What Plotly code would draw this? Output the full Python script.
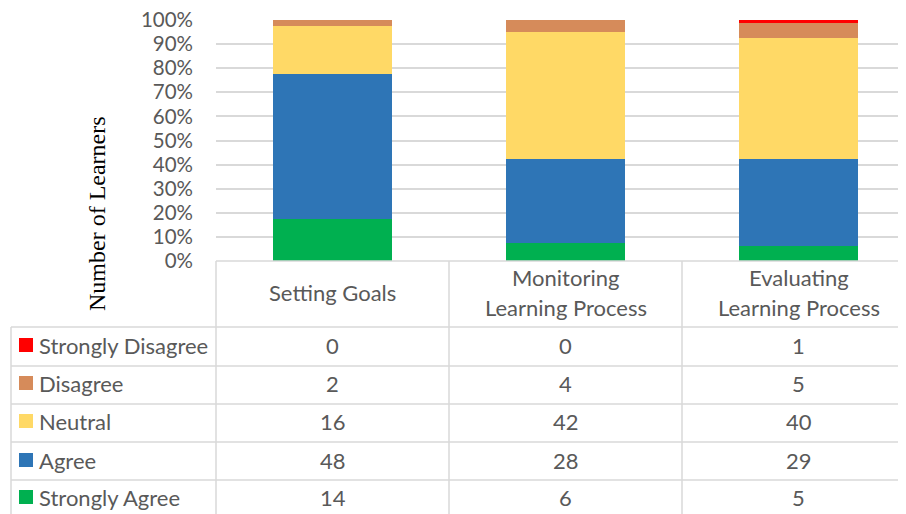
import plotly.graph_objects as go

categories = ["Setting Goals", "Monitoring Learning Process", "Evaluating Learning Process"]
header_labels = [["Setting Goals"], ["Monitoring", "Learning Process"], ["Evaluating", "Learning Process"]]
series_names = ["Strongly Agree", "Agree", "Neutral", "Disagree", "Strongly Disagree"]
strongly_agree = [14, 6, 5]
agree = [48, 28, 29]
neutral = [16, 42, 40]
disagree = [2, 4, 5]
strongly_disagree = [0, 0, 1]
series_values = [strongly_agree, agree, neutral, disagree, strongly_disagree]
colors = ["#00B050", "#2E75B6", "#FFD966", "#D68B5A", "#FF0000"]
y_tick_vals = [0, 10, 20, 30, 40, 50, 60, 70, 80, 90, 100]
y_tick_text = ["0%", "10%", "20%", "30%", "40%", "50%", "60%", "70%", "80%", "90%", "100%"]

W, H = 906, 514
OFF = 8  # page body margin
def px(x):
    return (x - OFF) / W
def py(y):
    return 1 - (y - OFF) / H

FONT = "Lato"
TXT = "#595959"
GRID = "#D9D9D9"

fig = go.Figure()
for name, vals, col in zip(series_names, series_values, colors):
    fig.add_trace(go.Bar(x=list(range(len(categories))), y=vals, name=name,
                         marker=dict(color=col, line=dict(width=0)), width=0.51))

x_left, y_top, y_bot = 216, 20, 261
col_w = 233
x_right_screen = W + OFF
fig.update_layout(
    width=W, height=H, barmode="stack", barnorm="percent",
    margin=dict(l=0, r=0, t=0, b=0, autoexpand=False), showlegend=False,
    paper_bgcolor="white", plot_bgcolor="white",
    xaxis=dict(domain=[px(x_left), 1], range=[-0.5, -0.5 + (x_right_screen - x_left) / col_w],
               showticklabels=False, showgrid=False, zeroline=False, showline=False,
               automargin=False),
    yaxis=dict(domain=[py(y_bot), py(y_top)], range=[0, 100], tickvals=y_tick_vals,
               ticktext=y_tick_text, showgrid=True, gridcolor=GRID, gridwidth=1.5,
               zeroline=False, showline=False, ticklabelstandoff=22, automargin=False,
               ticklabeloverflow="allow",
               tickfont=dict(family=FONT, size=20.5, color=TXT)),
)

shapes = []
def line(x0, y0, x1, y1):
    shapes.append(dict(type="line", xref="paper", yref="paper", x0=px(x0), y0=py(y0),
                       x1=px(x1), y1=py(y1), line=dict(color=GRID, width=1.5)))

row_lines = [327, 366, 404, 442, 480]
line(x_left, y_bot, x_right_screen, y_bot)
for ry in row_lines:
    line(11, ry, x_right_screen, ry)
line(11, 327, 11, H + OFF)
for k in range(3):
    xv = x_left + k * col_w
    line(xv, y_bot, xv, H + OFF)

annotations = []
col_centers = [x_left + col_w * (k + 0.5) for k in range(3)]
for k, lines in enumerate(header_labels):
    ys = [292] if len(lines) == 1 else [277, 307]
    for t, yy in zip(lines, ys):
        annotations.append(dict(x=px(col_centers[k]), y=py(yy), xref="paper", yref="paper",
                                text=t, showarrow=False, xanchor="center", yanchor="middle",
                                font=dict(family=FONT, size=22, color=TXT)))

row_order = list(range(len(series_names)))[::-1]
row_centers = [345, 383, 421, 460, 497]
for r, si in enumerate(row_order):
    yc = row_centers[r]
    shapes.append(dict(type="rect", xref="paper", yref="paper", x0=px(19), x1=px(33),
                       y0=py(yc + 7), y1=py(yc - 7), fillcolor=colors[si], line=dict(width=0)))
    annotations.append(dict(x=px(37), y=py(yc), xref="paper", yref="paper", text=series_names[si],
                            showarrow=False, xanchor="left", yanchor="middle",
                            font=dict(family=FONT, size=22, color=TXT)))
    for k in range(3):
        annotations.append(dict(x=px(col_centers[k]), y=py(yc), xref="paper", yref="paper",
                                text=str(series_values[si][k]), showarrow=False,
                                xanchor="center", yanchor="middle",
                                font=dict(family=FONT, size=22, color=TXT)))

annotations.append(dict(x=px(97), y=py(214), xref="paper", yref="paper", text="Number of Learners",
                        textangle=-90, showarrow=False, xanchor="center", yanchor="middle",
                        font=dict(family="Liberation Serif", size=24, color="black")))

fig.update_layout(shapes=shapes, annotations=annotations)
fig.write_html("out.html")
